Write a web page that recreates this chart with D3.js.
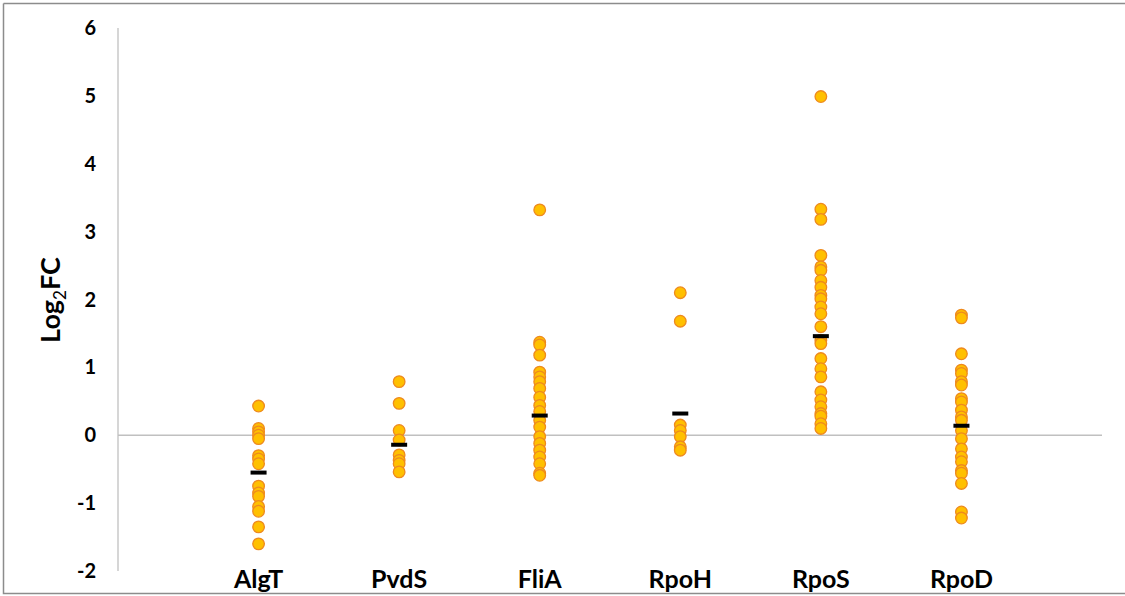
<!DOCTYPE html>
<html lang="en">
  <head>
    <meta charset="UTF-8" />
    <title>Log2FC by sigma factor</title>
    <style>
      body {
        margin: 0;
        background: #fff;
      }
      text {
        font-family: Lato, "Liberation Sans", sans-serif;
        font-weight: bold;
      }
    </style>
  </head>
  <body>
    <svg id="chart"></svg>
    <script src="https://cdnjs.cloudflare.com/ajax/libs/d3/7.4.4/d3.min.js"></script>
    <script>
      const categories = ["AlgT", "PvdS", "FliA", "RpoH", "RpoS", "RpoD"];

      const algT = [0.43, 0.1, 0.05, 0.0, -0.05, -0.3, -0.35, -0.42, -0.75, -0.85, -0.9, -1.05, -1.12, -1.35, -1.6];
      const pvdS = [0.79, 0.47, 0.07, -0.07, -0.29, -0.37, -0.42, -0.54];
      const fliA = [3.32, 1.37, 1.33, 1.18, 0.93, 0.86, 0.79, 0.69, 0.56, 0.44, 0.35, 0.22, 0.12, -0.02, -0.12, -0.22, -0.32, -0.42, -0.56, -0.59];
      const rpoH = [2.1, 1.68, 0.15, 0.07, -0.02, -0.17, -0.22];
      const rpoS = [4.99, 3.33, 3.18, 2.65, 2.48, 2.43, 2.28, 2.18, 2.06, 2.01, 1.89, 1.79, 1.6, 1.4, 1.35, 1.13, 0.98, 0.86, 0.64, 0.52, 0.42, 0.32, 0.28, 0.17, 0.1];
      const rpoD = [1.77, 1.73, 1.2, 0.96, 0.91, 0.79, 0.74, 0.54, 0.49, 0.37, 0.27, 0.22, 0.07, -0.05, -0.2, -0.32, -0.39, -0.52, -0.56, -0.71, -1.13, -1.22];
      const series = [algT, pvdS, fliA, rpoH, rpoS, rpoD];

      // black bars: group means as drawn
      const means = [-0.55, -0.14, 0.29, 0.32, 1.46, 0.14];

      const yTicks = [-2, -1, 0, 1, 2, 3, 4, 5, 6];

      const W = 1125, H = 596;
      const chart = d3.select("#chart").attr("width", W).attr("height", H);

      // frame
      chart.append("path")
        .attr("d", "M3.5,3.5 H1125 M3.5,3.5 V593.5 H1125")
        .attr("fill", "none")
        .attr("stroke", "#8c8c8c")
        .attr("stroke-width", 1.5);

      const xOf = d3.scaleLinear().domain([0, categories.length + 1]).range([118, 1102]);
      const yOf = d3.scaleLinear().domain([-2, 6]).range([571, 28]);

      // y axis line + zero line
      chart.append("line")
        .attr("x1", 118).attr("x2", 118)
        .attr("y1", yOf(6)).attr("y2", yOf(-2))
        .attr("stroke", "#c8c8c8").attr("stroke-width", 1.5);
      chart.append("line")
        .attr("x1", 118).attr("x2", xOf(categories.length + 1))
        .attr("y1", yOf(0)).attr("y2", yOf(0))
        .attr("stroke", "#c0c0c0").attr("stroke-width", 1.5);

      chart.selectAll("text.ytick")
        .data(yTicks)
        .enter()
        .append("text")
        .attr("class", "ytick")
        .attr("x", 96)
        .attr("y", (d) => yOf(d) + 7)
        .attr("text-anchor", "end")
        .attr("font-size", 20)
        .text((d) => d + "");

      const yTitle = chart.append("text")
        .attr("transform", "translate(60,300) rotate(-90)")
        .attr("text-anchor", "middle")
        .attr("font-size", 27);
      yTitle.append("tspan").text("Log");
      yTitle.append("tspan").attr("font-size", 17).attr("font-weight", "normal").attr("dy", 6).text("2");
      yTitle.append("tspan").attr("dy", -6).text("FC");

      chart.selectAll("text.xcat")
        .data(categories)
        .enter()
        .append("text")
        .attr("class", "xcat")
        .attr("x", (d, i) => xOf(i + 1))
        .attr("y", 588)
        .attr("text-anchor", "middle")
        .attr("font-size", 25)
        .text((d) => d);

      const groups = chart.selectAll("g.grp")
        .data(series)
        .enter()
        .append("g")
        .attr("class", "grp")
        .attr("transform", (d, i) => `translate(${xOf(i + 1)},0)`);

      groups.selectAll("circle")
        .data((d) => d)
        .enter()
        .append("circle")
        .attr("cx", 0)
        .attr("cy", yOf)
        .attr("r", 5.8)
        .attr("fill", "#ffc000")
        .attr("stroke", "#ee8a1e")
        .attr("stroke-width", 1.3);

      groups.append("rect")
        .attr("x", -8)
        .attr("y", (d, i) => yOf(means[i]) - 2)
        .attr("width", 16)
        .attr("height", 4)
        .attr("fill", "#000");
    </script>
  </body>
</html>
